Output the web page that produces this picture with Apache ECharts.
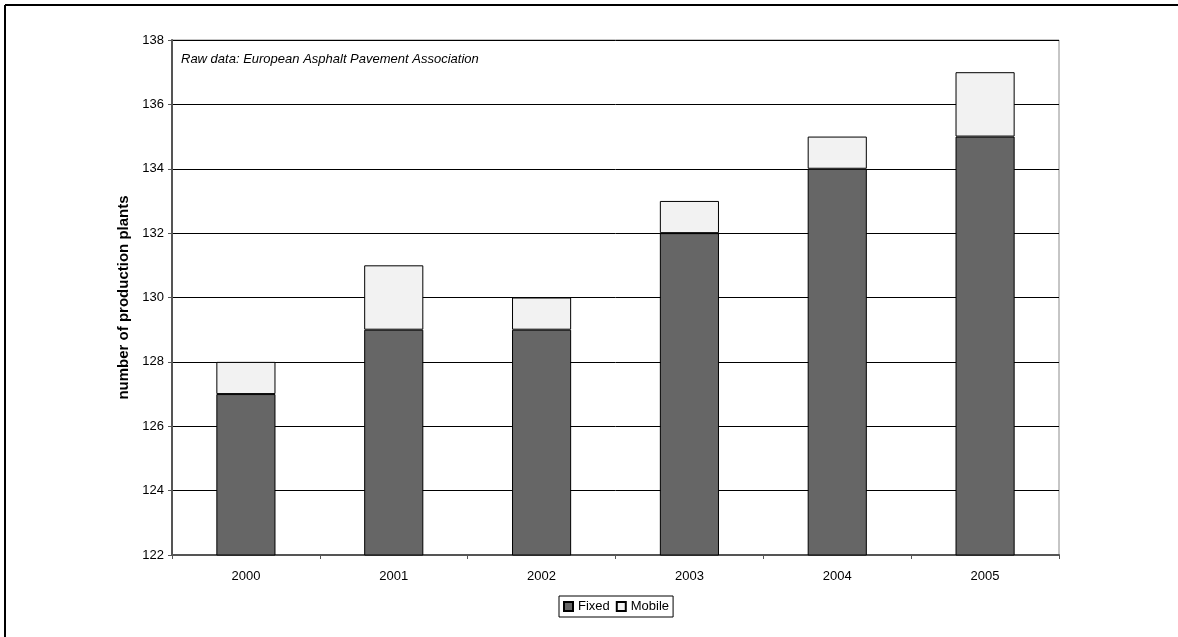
<!DOCTYPE html>
<html>
<head>
<meta charset="utf-8">
<script src="https://cdn.jsdelivr.net/npm/echarts@6/dist/echarts.min.js"></script>
<style>
  html, body { margin: 0; padding: 0; background: #fff; }
  #chart { width: 1178px; height: 637px; }
</style>
</head>
<body>
<div id="chart"></div>
<script>
// Asphalt production plants per year, split into fixed and mobile plants
const years = ['2000', '2001', '2002', '2003', '2004', '2005'];
const fixedPlants = [127, 129, 129, 132, 134, 135];
const mobilePlants = [1, 2, 1, 1, 1, 2];
const yMin = 122;
const yMax = 138;
const yStep = 2;

const FONT = 'Liberation Sans, Arial, sans-serif';
const chart = echarts.init(document.getElementById('chart'), null, { renderer: 'canvas' });

chart.setOption({
  animation: false,
  backgroundColor: '#ffffff',
  textStyle: { fontFamily: FONT },
  grid: {
    left: 172, right: 119, top: 40, bottom: 82,
    show: true, borderColor: '#8c8c8c', borderWidth: 1
  },
  graphic: [
    // frame on the top and left edges
    { type: 'line', shape: { x1: 5, y1: 5, x2: 1178, y2: 5 }, style: { stroke: '#000', lineWidth: 2 } },
    { type: 'line', shape: { x1: 5, y1: 5, x2: 5, y2: 637 }, style: { stroke: '#000', lineWidth: 2 } },
    {
      type: 'text', left: 181, top: 53,
      style: {
        text: 'Raw data: European Asphalt Pavement Association',
        font: 'italic 13px ' + FONT, fill: '#000'
      }
    }
  ],
  legend: {
    data: ['Fixed', 'Mobile'],
    left: 559, top: 596,
    orient: 'horizontal',
    padding: [4, 4, 4, 4],
    itemGap: 6,
    itemWidth: 9, itemHeight: 9,
    icon: 'rect',
    borderColor: '#000', borderWidth: 1,
    backgroundColor: '#fff',
    textStyle: { fontSize: 13, color: '#000', fontFamily: FONT }
  },
  xAxis: {
    type: 'category',
    data: years,
    axisLine: { show: true, lineStyle: { color: '#555', width: 2 } },
    axisTick: { show: true, length: 4, inside: false, lineStyle: { color: '#555' } },
    axisLabel: { color: '#000', fontSize: 13, margin: 15, fontFamily: FONT }
  },
  yAxis: {
    type: 'value',
    min: yMin, max: yMax, interval: yStep,
    name: 'number of production plants',
    nameLocation: 'middle',
    nameGap: 38,
    nameTextStyle: { fontSize: 15, fontWeight: 'bold', color: '#000', fontFamily: FONT },
    axisLine: { show: true, lineStyle: { color: '#555', width: 2 } },
    axisTick: { show: true, length: 4, lineStyle: { color: '#555' } },
    axisLabel: { color: '#000', fontSize: 13, margin: 8, fontFamily: FONT },
    splitLine: { show: true, lineStyle: { color: '#000', width: 1 } }
  },
  series: [
    {
      name: 'Fixed', type: 'bar', stack: 'plants',
      data: fixedPlants,
      barWidth: '40%',
      itemStyle: { color: '#666666', borderColor: '#000', borderWidth: 1 }
    },
    {
      name: 'Mobile', type: 'bar', stack: 'plants',
      data: mobilePlants,
      barWidth: '40%',
      itemStyle: { color: '#f2f2f2', borderColor: '#000', borderWidth: 1 }
    }
  ]
});
</script>
</body>
</html>
